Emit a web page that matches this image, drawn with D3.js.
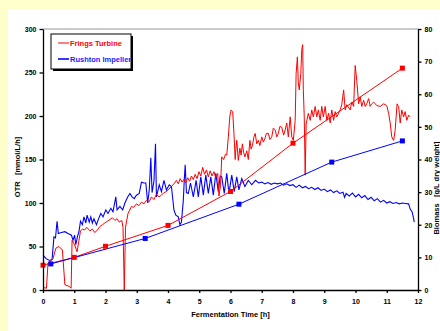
<!DOCTYPE html>
<html>
<head>
<meta charset="utf-8">
<script src="https://cdn.jsdelivr.net/npm/d3@7"></script>
<style>
  body { margin: 0; background: #ffffcc; }
  svg { display: block; font-family: "Liberation Sans", Arial, sans-serif; font-weight: bold; }
</style>
</head>
<body>
<div id="chart"></div>
<script>
// values: [time h, OTR mmol/L/h]
var fringsOtr = [
  [0,3],[0.11,2],[0.16,31],[0.27,34],[0.32,36],[0.41,48],[0.51,50],[0.62,46],[0.7,6],[0.85,4],[0.9,2],
  [0.93,57],[1.01,52],[1.09,44],[1.15,57],[1.2,68],[1.27,70],[1.33,69],[1.4,72],[1.5,68],[1.58,70],
  [1.66,66],[1.74,69],[1.82,73],[1.9,75],[1.98,77],[2.06,79],[2.14,81],[2.22,83],[2.3,80],[2.37,82],
  [2.44,78],[2.52,80],[2.56,72],[2.6,0],[2.64,72],[2.72,88],[2.78,92],[2.83,96],[2.9,95],[2.99,99],
  [3.07,97],[3.15,101],[3.23,99],[3.31,103],[3.39,101],[3.47,107],[3.55,104],[3.63,110],[3.71,107],
  [3.79,109],[3.87,112],[3.95,113],[4.03,116],[4.11,119],[4.19,122],[4.27,126],[4.33,122],[4.39,128],
  [4.45,124],[4.51,127],[4.57,123],[4.63,129],[4.69,125],[4.75,131],[4.81,127],[4.87,133],[4.93,128],
  [4.99,136],[5.05,131],[5.11,141],[5.17,133],[5.23,138],[5.29,130],[5.35,137],[5.41,131],[5.47,136],
  [5.53,129],[5.59,134],[5.63,108],[5.68,120],[5.72,153],[5.78,150],[5.84,156],[5.88,155],[5.93,176],
  [5.98,200],[6.02,207],[6.07,205],[6.11,180],[6.15,150],[6.17,161],[6.2,172],[6.25,149],[6.3,163],
  [6.34,155],[6.38,168],[6.42,158],[6.46,153],[6.52,160],[6.57,150],[6.62,172],[6.66,162],[6.7,166],
  [6.75,176],[6.79,180],[6.84,168],[6.89,172],[6.94,166],[7.0,176],[7.05,170],[7.1,174],[7.15,180],
  [7.21,180],[7.26,173],[7.32,176],[7.37,186],[7.43,184],[7.48,176],[7.53,180],[7.58,188],[7.64,187],
  [7.7,178],[7.75,184],[7.8,192],[7.85,176],[7.91,199],[7.96,176],[8.01,172],[8.07,195],[8.1,249],
  [8.14,268],[8.17,238],[8.2,230],[8.25,249],[8.28,276],[8.31,282],[8.33,230],[8.36,199],[8.39,132],
  [8.42,191],[8.49,203],[8.55,195],[8.6,207],[8.65,199],[8.71,211],[8.76,199],[8.81,207],[8.87,195],
  [8.92,211],[8.97,199],[9.03,211],[9.08,195],[9.14,203],[9.19,192],[9.24,207],[9.3,195],[9.35,205],
  [9.4,199],[9.51,207],[9.56,213],[9.62,230],[9.67,207],[9.72,213],[9.83,207],[9.88,216],[9.94,211],
  [9.99,258],[10.04,241],[10.1,214],[10.15,222],[10.2,211],[10.26,218],[10.31,211],[10.36,214],
  [10.42,220],[10.47,211],[10.52,214],[10.58,216],[10.68,212],[10.79,211],[10.9,214],[11.0,212],
  [11.06,203],[11.11,192],[11.16,176],[11.22,172],[11.27,184],[11.33,214],[11.38,211],[11.43,192],
  [11.48,207],[11.54,199],[11.59,205],[11.64,195],[11.7,201],[11.75,199]
];

var rushtonOtr = [
  [0,40],[0.1,36],[0.21,34],[0.29,35],[0.35,61],[0.4,60],[0.45,79],[0.49,65],[0.59,66],[0.7,67],
  [0.8,65],[0.91,63],[0.96,57],[1.01,63],[1.05,52],[1.1,61],[1.15,67],[1.2,79],[1.26,75],[1.31,84],
  [1.37,77],[1.41,86],[1.48,78],[1.53,84],[1.58,77],[1.63,82],[1.71,75],[1.78,82],[1.85,88],[1.92,84],
  [2.01,92],[2.08,88],[2.17,94],[2.24,90],[2.33,107],[2.37,92],[2.46,96],[2.55,92],[2.62,100],[2.71,107],
  [2.78,111],[2.85,107],[2.92,105],[2.99,109],[3.08,111],[3.15,124],[3.23,123],[3.29,123],[3.35,100],
  [3.4,115],[3.45,152],[3.49,112],[3.55,125],[3.6,168],[3.63,107],[3.72,121],[3.79,113],[3.87,126],
  [3.95,115],[4.04,121],[4.11,119],[4.19,92],[4.25,86],[4.33,84],[4.38,75],[4.43,78],[4.49,103],
  [4.52,126],[4.55,144],[4.59,112],[4.65,111],[4.72,123],[4.81,107],[4.9,126],[4.97,107],[5.05,130],
  [5.13,109],[5.21,132],[5.29,111],[5.37,130],[5.45,109],[5.53,134],[5.61,113],[5.67,131],[5.72,130],
  [5.8,111],[5.88,134],[5.95,111],[6.04,132],[6.12,113],[6.2,130],[6.27,115],[6.36,128],[6.46,119],
  [6.57,126],[6.68,121],[6.8,126],[6.9,123],[7.0,124],[7.1,122],[7.2,123.5],[7.3,121.5],[7.4,123],
  [7.5,122],[7.6,123],[7.7,120.5],[7.8,122],[7.9,120],[8.0,121],[8.1,118],[8.2,120.5],[8.3,117.5],
  [8.4,119],[8.5,116.5],[8.6,118],[8.7,115.5],[8.8,117.5],[8.9,114.5],[9.0,116],[9.1,113],[9.2,115],
  [9.3,112],[9.4,114],[9.5,111],[9.6,112.5],[9.65,106.5],[9.7,111],[9.8,108],[9.9,111.5],[10.0,107],
  [10.1,110],[10.2,106],[10.3,108.5],[10.4,104],[10.5,106.5],[10.6,102.5],[10.7,105],[10.8,101],
  [10.9,103],[11.0,100],[11.1,101.5],[11.2,99.5],[11.3,100.5],[11.4,99],[11.5,100],[11.6,99.5],
  [11.7,99],[11.75,93],[11.81,90],[11.86,82],[11.88,78]
];

// [time h, biomass g/L]
var fringsBiomass = [[0,7.6],[1,10],[2,13.4],[4,19.8],[6,30.2],[8,45],[11.5,68]];
var rushtonBiomass = [[0.25,8],[3.27,15.8],[6.27,26.3],[9.24,39.2],[11.5,45.7]];

var timeTicks = [0,1,2,3,4,5,6,7,8,9,10,11,12];
var otrTicks = [0,50,100,150,200,250,300];
var biomassTicks = [0,10,20,30,40,50,60,70,80];
var seriesNames = ["Frings Turbine", "Rushton Impeller"];

var W = 440, H = 331;
var margin = { top: 29, right: 22, bottom: 41, left: 43 },
    width = W - margin.left - margin.right,
    height = H - margin.top - margin.bottom;

var svg = d3.select("#chart").append("svg")
    .attr("width", W)
    .attr("height", H);

// white panel on the yellow page
svg.append("rect").attr("x", 8).attr("y", 9).attr("width", W - 8).attr("height", H - 9).attr("fill", "#fff");

var g = svg.append("g").attr("transform", "translate(" + margin.left + "," + margin.top + ")");

var x = d3.scaleLinear().domain([0, 12]).range([0, width]);
var y = d3.scaleLinear().domain([0, 300]).range([height, 0]);
var y2 = d3.scaleLinear().domain([0, 80]).range([height, 0]);

// top border
g.append("line").attr("x1", 0).attr("x2", width).attr("y1", 0).attr("y2", 0)
    .attr("stroke", "#999").attr("stroke-width", 1.2);

var otrLine = d3.line().x(function (d) { return x(d[0]); }).y(function (d) { return y(d[1]); });
var bioLine = d3.line().x(function (d) { return x(d[0]); }).y(function (d) { return y2(d[1]); });

g.append("path").datum(rushtonOtr).attr("d", otrLine)
    .attr("fill", "none").attr("stroke", "#0000ff").attr("stroke-width", 1.1);
g.append("path").datum(fringsOtr).attr("d", otrLine)
    .attr("fill", "none").attr("stroke", "#ff0000").attr("stroke-width", 1);

g.append("path").datum(fringsBiomass).attr("d", bioLine)
    .attr("fill", "none").attr("stroke", "#ff0000").attr("stroke-width", 1);
g.append("path").datum(rushtonBiomass).attr("d", bioLine)
    .attr("fill", "none").attr("stroke", "#0000ff").attr("stroke-width", 1);

g.selectAll(".sqR").data(fringsBiomass).enter().append("rect")
    .attr("x", function (d) { return x(d[0]) - 2.5; })
    .attr("y", function (d) { return y2(d[1]) - 2.5; })
    .attr("width", 5).attr("height", 5).attr("fill", "#ff0000");
g.selectAll(".sqB").data(rushtonBiomass).enter().append("rect")
    .attr("x", function (d) { return x(d[0]) - 2.5; })
    .attr("y", function (d) { return y2(d[1]) - 2.5; })
    .attr("width", 5).attr("height", 5).attr("fill", "#0000ff");

// axes
function styleAxis(sel) {
    sel.select(".domain").attr("stroke", "#000").attr("stroke-width", 1.3);
    sel.selectAll(".tick line").attr("stroke", "#000").attr("stroke-width", 1.3);
    sel.selectAll(".tick text").attr("font-size", 7).attr("font-weight", "bold").attr("fill", "#000")
        .attr("font-family", "Liberation Sans, Arial, sans-serif");
}

g.append("g").attr("transform", "translate(0," + height + ")")
    .call(d3.axisBottom(x).tickValues(timeTicks).tickSize(3).tickSizeOuter(0).tickPadding(6))
    .call(styleAxis);

g.append("g")
    .call(d3.axisLeft(y).tickValues(otrTicks).tickSize(3.5).tickSizeOuter(0).tickPadding(3))
    .call(styleAxis);

g.append("g").attr("transform", "translate(" + width + ",0)")
    .call(d3.axisRight(y2).tickValues(biomassTicks).tickSize(3.5).tickSizeOuter(0).tickPadding(3))
    .call(styleAxis);

// axis titles
svg.append("text").attr("x", margin.left + width / 2 + 0).attr("y", 317)
    .attr("text-anchor", "middle").attr("font-size", 7.5).text("Fermentation Time  [h]");

svg.append("text").attr("transform", "translate(20,167) rotate(-90)")
    .attr("text-anchor", "middle").attr("font-size", 7.5)
    .attr("xml:space", "preserve").text("OTR   [mmol/L/h]");

svg.append("text").attr("transform", "translate(438.5,188) rotate(-90)")
    .attr("text-anchor", "middle").attr("font-size", 7.5)
    .attr("xml:space", "preserve").text("Biomass   [g/L dry weight]");

// legend
var lg = svg.append("g").attr("transform", "translate(51,34)");
lg.append("rect").attr("x", 2).attr("y", 2).attr("width", 80).attr("height", 35).attr("fill", "#000");
lg.append("rect").attr("x", 0).attr("y", 0).attr("width", 80).attr("height", 35)
    .attr("fill", "#fff").attr("stroke", "#000").attr("stroke-width", 1);
var legColors = ["#ff0000", "#2020ff"];
seriesNames.forEach(function (name, i) {
    var ly = 9 + i * 16;
    lg.append("line").attr("x1", 7).attr("x2", 18).attr("y1", ly).attr("y2", ly)
        .attr("stroke", legColors[i]).attr("stroke-width", i ? 1.8 : 1);
    lg.append("text").attr("x", 19).attr("y", ly + 2.5).attr("font-size", 7.5)
        .attr("fill", legColors[i]).text(name);
});
</script>
</body>
</html>
